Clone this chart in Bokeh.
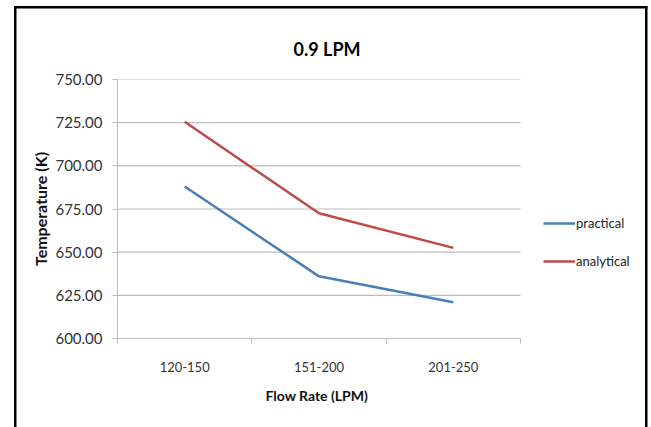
from bokeh.plotting import figure
from bokeh.models import (Range1d, LinearAxis, FixedTicker, Title,
                          NumeralTickFormatter, Legend, LegendItem)
from bokeh.embed import file_html
from bokeh.resources import INLINE

categories = ["120-150", "151-200", "201-250"]
practical = [688.0, 636.0, 621.0]
analytical = [725.5, 672.5, 652.5]
y_ticks = [600, 625, 650, 675, 700, 725, 750]

FONT = "Lato"
GRAY = "#BDBDBD"
BLUE = "#4A7EBB"
RED = "#BE4B48"

W, H = 648, 427
LEFT, RIGHT, TOP, BOTTOM = 117, 8, 79, 89
PLOT_W = 403          # width of the category area (plot area of the chart)
FRAME_W = W - LEFT - RIGHT

n = len(categories)
xpos = [i + 0.5 for i in range(n)]
boundary_ticks = list(range(n + 1))
x_end = n * FRAME_W / PLOT_W   # frame extends to the right to host the legend

p = figure(width=W, height=H,
           x_range=Range1d(0, x_end), y_range=Range1d(600, 750),
           output_backend="svg", toolbar_location=None,
           x_axis_location=None,
           min_border_left=LEFT, min_border_right=RIGHT,
           min_border_top=TOP, min_border_bottom=BOTTOM,
           styles={
               "background-image": "linear-gradient(#000,#000), linear-gradient(#000,#000), linear-gradient(#000,#000)",
               "background-size": "2.5px 100%, 633.5px 2.5px, 2.5px 100%",
               "background-position": "14px 6px, 14px 6px, 645px 6px",
               "background-repeat": "no-repeat",
           })

p.outline_line_color = None
p.background_fill_alpha = 0
p.border_fill_alpha = 0
p.xgrid.visible = False
p.ygrid.visible = False

# title
p.title.text = "0.9 LPM"
p.title.align = "left"
p.title.text_font = FONT
p.title.text_font_size = "18px"
p.title.text_font_style = "bold"
p.title.text_color = "#000000"
p.title.offset = 176
p.title.standoff = 39

# y axis
yax = p.yaxis[0]
yax.ticker = FixedTicker(ticks=y_ticks)
yax.formatter = NumeralTickFormatter(format="0.00")
yax.axis_line_color = GRAY
yax.major_tick_line_color = GRAY
yax.major_tick_out = 5
yax.major_tick_in = 0
yax.minor_tick_line_color = None
yax.major_label_text_font = FONT
yax.major_label_text_font_size = "15px"
yax.major_label_text_color = "#333333"
yax.major_label_standoff = 10
yax.axis_label = "Temperature (K)"
yax.axis_label_text_font = FONT
yax.axis_label_text_font_size = "16px"
yax.axis_label_text_font_style = "bold"
yax.axis_label_text_color = "#111111"
yax.axis_label_standoff = 2

# horizontal gridlines across the category area only
p.segment(x0=0, x1=n, y0=y_ticks, y1=y_ticks, line_color=GRAY, line_width=1.2)

# category axis: labels at slot centres, Excel-style ticks between categories
xax = LinearAxis(ticker=FixedTicker(ticks=xpos, minor_ticks=boundary_ticks), bounds=(0, n))
xax.major_label_overrides = {x: c for x, c in zip(xpos, categories)}
xax.axis_line_color = GRAY
xax.major_tick_line_color = None
xax.major_tick_out = 0
xax.major_tick_in = 0
xax.minor_tick_line_color = GRAY
xax.minor_tick_out = 5
xax.minor_tick_in = 0
xax.major_label_text_font = FONT
xax.major_label_text_font_size = "13px"
xax.major_label_text_color = "#333333"
xax.major_label_standoff = 18
p.add_layout(xax, "below")

# x axis title, positioned over the category area
xtitle = Title(text="Flow Rate (LPM)", align="left", offset=148, standoff=21,
               text_font=FONT, text_font_size="14px", text_font_style="bold",
               text_color="#111111")
p.add_layout(xtitle, "below")

r1 = p.line(xpos, practical, line_color=BLUE, line_width=2.5)
r2 = p.line(xpos, analytical, line_color=RED, line_width=2.5)

legend = Legend(items=[LegendItem(label="practical", renderers=[r1]),
                       LegendItem(label="analytical", renderers=[r2])],
                location=(426, 69))
legend.border_line_color = None
legend.background_fill_alpha = 0
legend.padding = 0
legend.margin = 0
legend.glyph_width = 32
legend.glyph_height = 16
legend.label_height = 16
legend.spacing = 22
legend.label_standoff = 1
legend.label_text_font = FONT
legend.label_text_font_size = "13px"
legend.label_text_color = "#222222"
p.add_layout(legend, "center")

open("out.html", "w").write(file_html(p, INLINE))
